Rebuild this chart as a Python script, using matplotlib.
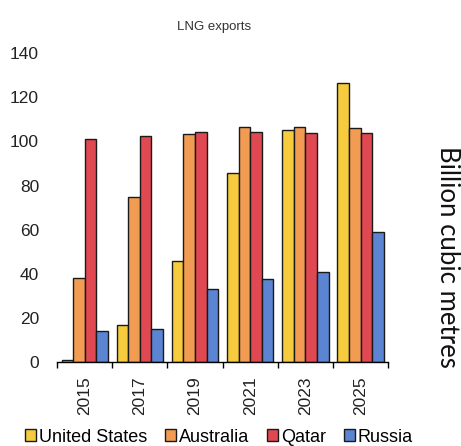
import numpy as np
import matplotlib
matplotlib.use("Agg")
import matplotlib.pyplot as plt

plt.rcParams['font.family'] = ['Liberation Sans', 'DejaVu Sans']

years = ['2015', '2017', '2019', '2021', '2023', '2025']
united_states = [1, 17, 46, 85.5, 105.3, 126.3]
australia = [38, 75, 103.5, 106.3, 106.3, 106.2]
qatar = [101, 102.5, 104.4, 104.2, 104, 103.7]
russia = [14, 15, 33, 37.6, 41, 58.9]

series = [united_states, australia, qatar, russia]
names = ['United States', 'Australia', 'Qatar', 'Russia']
colours = ['#F6CB3E', '#F19C52', '#E04852', '#5B84D2']

fig = plt.figure(figsize=(4.61, 4.46), dpi=100)
ax = fig.add_axes([0.124, 0.188, 0.718, 0.693])

x = np.arange(len(years))
w = 0.21
for i, (vals, name, col) in enumerate(zip(series, names, colours)):
    ax.bar(x + (i - 1.5) * w, vals, w, color=col, edgecolor='#1a1a1a',
           linewidth=1.0, label=name)

ax.set_xlim(-0.5, len(years) - 0.5)
ax.set_ylim(0, 140)
ax.set_yticks(range(0, 141, 20))
ax.tick_params(axis='y', length=0, labelsize=12.5, pad=13, colors='#222222')

ax.set_xticks(x)
ax.set_xticklabels(years, rotation=90, fontsize=12.5, color='#222222')
ax.set_xticks(np.arange(-0.5, len(years)), minor=True)
ax.tick_params(axis='x', which='major', length=0, pad=10)
ax.tick_params(axis='x', which='minor', length=4, width=1, direction='out')

for s in ['top', 'right', 'left']:
    ax.spines[s].set_visible(False)
ax.spines['bottom'].set_linewidth(1)

fig.text(0.464, 0.94, 'LNG exports', fontsize=9.5, ha='center', va='center',
         color='#333333')
fig.text(0.97, 0.424, 'Billion cubic metres', fontsize=18.5, rotation=270,
         ha='center', va='center', family=['Lato', 'DejaVu Sans'], color='#111111')

fig.legend(loc='center', bbox_to_anchor=(0.475, 0.02), ncol=4, frameon=False,
           fontsize=13, handlelength=0.6, handleheight=0.6, handletextpad=0.15,
           columnspacing=1.0, borderaxespad=0)

fig.savefig('out.png', dpi=100)
